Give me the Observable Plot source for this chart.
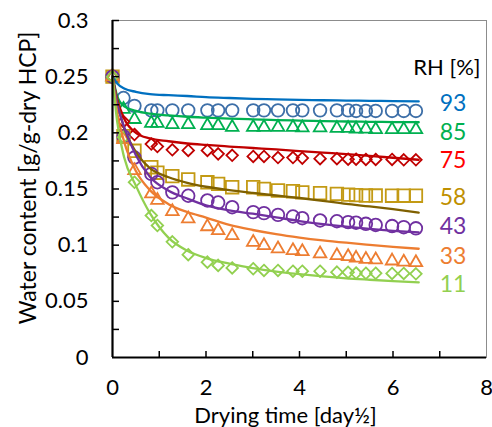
<!DOCTYPE html>
<html>
<head>
<meta charset="utf-8">
<script src="https://cdn.jsdelivr.net/npm/d3@7"></script>
<script src="https://cdn.jsdelivr.net/npm/@observablehq/plot@0.6"></script>
<style>
  html, body { margin: 0; padding: 0; background: white; }
</style>
</head>
<body>
<div id="chart"></div>
<script>
// ---- data ----
const xSqrtDay = [0, 0.235, 0.47, 0.83, 0.96, 1.28, 1.62, 2.03, 2.26, 2.56, 3.01, 3.24, 3.54, 3.86, 4.06, 4.44, 4.80, 5.04, 5.21, 5.42, 5.63, 5.98, 6.23, 6.49];
const rhLabels = ["93", "85", "75", "58", "43", "33", "11"];

const wc93 = [0.25, 0.231, 0.224, 0.220, 0.220, 0.220, 0.220, 0.220, 0.220, 0.220, 0.220, 0.220, 0.220, 0.220, 0.220, 0.220, 0.220, 0.220, 0.2195, 0.2195, 0.2195, 0.2195, 0.2195, 0.2195];
const wc85 = [0.25, 0.221, 0.212, 0.2086, 0.2086, 0.2074, 0.2074, 0.2065, 0.2065, 0.205, 0.205, 0.205, 0.205, 0.205, 0.2045, 0.2045, 0.204, 0.204, 0.2035, 0.2035, 0.203, 0.203, 0.203, 0.203];
const wc75 = [0.25, 0.210, 0.1985, 0.190, 0.1878, 0.1849, 0.1843, 0.1843, 0.1813, 0.180, 0.179, 0.179, 0.178, 0.178, 0.1775, 0.177, 0.177, 0.1765, 0.1765, 0.1763, 0.1763, 0.1763, 0.176, 0.176];
const wc58 = [0.25, 0.197, 0.184, 0.1694, 0.1645, 0.1615, 0.1585, 0.156, 0.1546, 0.1516, 0.1516, 0.150, 0.1487, 0.148, 0.147, 0.1463, 0.1457, 0.145, 0.1445, 0.1442, 0.1442, 0.144, 0.144, 0.144];
const wc43 = [0.25, 0.197, 0.178, 0.1635, 0.156, 0.147, 0.144, 0.1398, 0.138, 0.1338, 0.1294, 0.1285, 0.127, 0.1255, 0.124, 0.122, 0.1213, 0.1205, 0.120, 0.119, 0.118, 0.117, 0.116, 0.115];
const wc33 = [0.25, 0.194, 0.1665, 0.1457, 0.140, 0.130, 0.1235, 0.1165, 0.113, 0.1086, 0.1026, 0.0997, 0.0968, 0.0953, 0.0944, 0.0923, 0.0908, 0.0899, 0.0885, 0.0875, 0.087, 0.086, 0.085, 0.0845];
const wc11 = [0.25, 0.196, 0.156, 0.1264, 0.1175, 0.103, 0.0915, 0.0849, 0.082, 0.0797, 0.079, 0.0775, 0.0775, 0.0768, 0.0768, 0.0768, 0.076, 0.0758, 0.0752, 0.075, 0.075, 0.0748, 0.0748, 0.0745];

// model curves
const fitX  = [0, 0.1, 0.25, 0.5, 0.8, 1.2, 1.6, 2, 2.5, 3, 3.5, 4, 4.5, 5, 5.5, 6, 6.55];
const fit93 = [0.25, 0.244, 0.2395, 0.2365, 0.2345, 0.2335, 0.2328, 0.2318, 0.231, 0.2303, 0.2298, 0.2293, 0.229, 0.2287, 0.2285, 0.2283, 0.228];
const fit85 = [0.25, 0.233, 0.2235, 0.2195, 0.217, 0.2155, 0.2143, 0.2135, 0.2127, 0.212, 0.2114, 0.2109, 0.2105, 0.2101, 0.2098, 0.2096, 0.2094];
const fit75 = [0.25, 0.230, 0.2125, 0.200, 0.195, 0.1925, 0.1905, 0.1892, 0.1878, 0.1865, 0.1852, 0.1838, 0.1824, 0.181, 0.1795, 0.1778, 0.176];
const fit58 = [0.25, 0.228, 0.204, 0.183, 0.1685, 0.1605, 0.1555, 0.152, 0.149, 0.1465, 0.1442, 0.142, 0.1395, 0.1368, 0.1345, 0.132, 0.129];
const fit43 = [0.25, 0.226, 0.205, 0.180, 0.161, 0.1485, 0.1415, 0.1355, 0.131, 0.128, 0.1248, 0.1215, 0.1188, 0.1165, 0.1145, 0.1128, 0.1113];
const fit33 = [0.25, 0.218, 0.192, 0.166, 0.149, 0.1365, 0.1295, 0.1245, 0.118, 0.1135, 0.1098, 0.1068, 0.1043, 0.1022, 0.1003, 0.0985, 0.0968];
const fit11 = [0.25, 0.210, 0.178, 0.153, 0.1285, 0.1065, 0.095, 0.0885, 0.0835, 0.0795, 0.0765, 0.0742, 0.0722, 0.0705, 0.0692, 0.068, 0.0668];

// axis ticks and labels
const yTicks = [0, 0.05, 0.1, 0.15, 0.2, 0.25, 0.3];
const yTickLabels = ["0", "0.05", "0.1", "0.15", "0.2", "0.25", "0.3"];
const yMinorTicks = [0.025, 0.05, 0.075, 0.1, 0.125, 0.15, 0.175, 0.2, 0.225, 0.25, 0.275, 0.3];
const xTicks = [0, 2, 4, 6, 8];
const xTickLabels = ["0", "2", "4", "6", "8"];
const xMinorTicks = [1, 2, 3, 4, 5, 6, 7];
// legend anchor values (water content at which each RH label sits)
const labelY = [0.2257, 0.2006, 0.1754, 0.1427, 0.1166, 0.0899, 0.065];
const labelX = 7.0;

// ---- styles ----
const series = [
  {obs: wc93, fit: fit93, mark: "#3D6FA8", line: "#0070C0", text: "#0070C0", symbol: "circle",   r: 6.3},
  {obs: wc85, fit: fit85, mark: "#00B050", line: "#00B050", text: "#00B050", symbol: "triangle2", r: 6.0},
  {obs: wc75, fit: fit75, mark: "#C00000", line: "#C00000", text: "#FF0000", symbol: "diamond2", r: 5.2},
  {obs: wc58, fit: fit58, mark: "#C39A14", line: "#7F6000", text: "#BF9000", symbol: "square2",  r: 8.0},
  {obs: wc43, fit: fit43, mark: "#7030A0", line: "#7030A0", text: "#7030A0", symbol: "circle",   r: 6.3},
  {obs: wc33, fit: fit33, mark: "#ED7D31", line: "#ED7D31", text: "#ED7D31", symbol: "triangle2", r: 6.0},
  {obs: wc11, fit: fit11, mark: "#92D050", line: "#92D050", text: "#92D050", symbol: "diamond2", r: 5.2}
];

const marks = [];
marks.push(Plot.frame({stroke: "#8c8c8c", strokeWidth: 1}));

series.forEach((s) => {
  const pts = xSqrtDay.map((x, i) => ({x, y: s.obs[i]}));
  marks.push(Plot.dot(pts, {x: "x", y: "y", symbol: () => s.symbol, r: s.r, stroke: s.mark, strokeWidth: 1.8, fill: "none"}));
});
series.forEach((s) => {
  const pts = fitX.map((x, i) => ({x, y: s.fit[i]}));
  marks.push(Plot.line(pts, {x: "x", y: "y", stroke: s.line, strokeWidth: 2.3, curve: "monotone-x"}));
});
series.forEach((s, i) => {
  marks.push(Plot.text([rhLabels[i]], {x: labelX, y: labelY[i], text: d => d, fill: s.text, fontSize: 23, textAnchor: "start", lineAnchor: "middle"}));
});
marks.push(Plot.text(["RH [%]"], {frameAnchor: "top-right", dx: -6, dy: 47, textAnchor: "end", lineAnchor: "middle", fontSize: 22, fill: "black"}));

// axes
marks.push(Plot.axisY(yTicks, {tickSize: 0, tickPadding: 24, fontSize: 22, label: null, tickFormat: d => yTickLabels[yTicks.indexOf(d)]}));
marks.push(Plot.axisY(yMinorTicks, {tickSize: -7, strokeWidth: 1.5, label: null, tickFormat: () => ""}));
marks.push(Plot.axisX(xTicks, {tickSize: 0, tickPadding: 22, fontSize: 22, label: null, tickFormat: d => xTickLabels[xTicks.indexOf(d)]}));
marks.push(Plot.axisX(xMinorTicks, {tickSize: -6, strokeWidth: 1.5, label: null, tickFormat: () => ""}));
marks.push(Plot.ruleX([0], {stroke: "black", strokeWidth: 2.2}));
marks.push(Plot.ruleY([0], {stroke: "black", strokeWidth: 2.2}));

// axis titles
marks.push(Plot.text(["Water content [g/g-dry HCP]"], {frameAnchor: "left", rotate: -90, dx: -84, dy: -11, fontSize: 23, fill: "black", textAnchor: "middle", lineAnchor: "middle"}));
marks.push(Plot.text(["Drying time [day½]"], {frameAnchor: "bottom", dx: -14, dy: 58, fontSize: 22, fill: "black", textAnchor: "middle", lineAnchor: "middle"}));

const chart = Plot.plot({
  width: 492,
  height: 427,
  marginLeft: 112,
  marginRight: 6,
  marginTop: 20,
  marginBottom: 70,
  x: {domain: [0, 8], label: null},
  y: {domain: [0, 0.3], label: null},
  style: {fontFamily: "Lato", fontSize: "21px", background: "white", color: "black", overflow: "visible"},
  marks
});
document.getElementById("chart").appendChild(chart);
</script>
</body>
</html>
